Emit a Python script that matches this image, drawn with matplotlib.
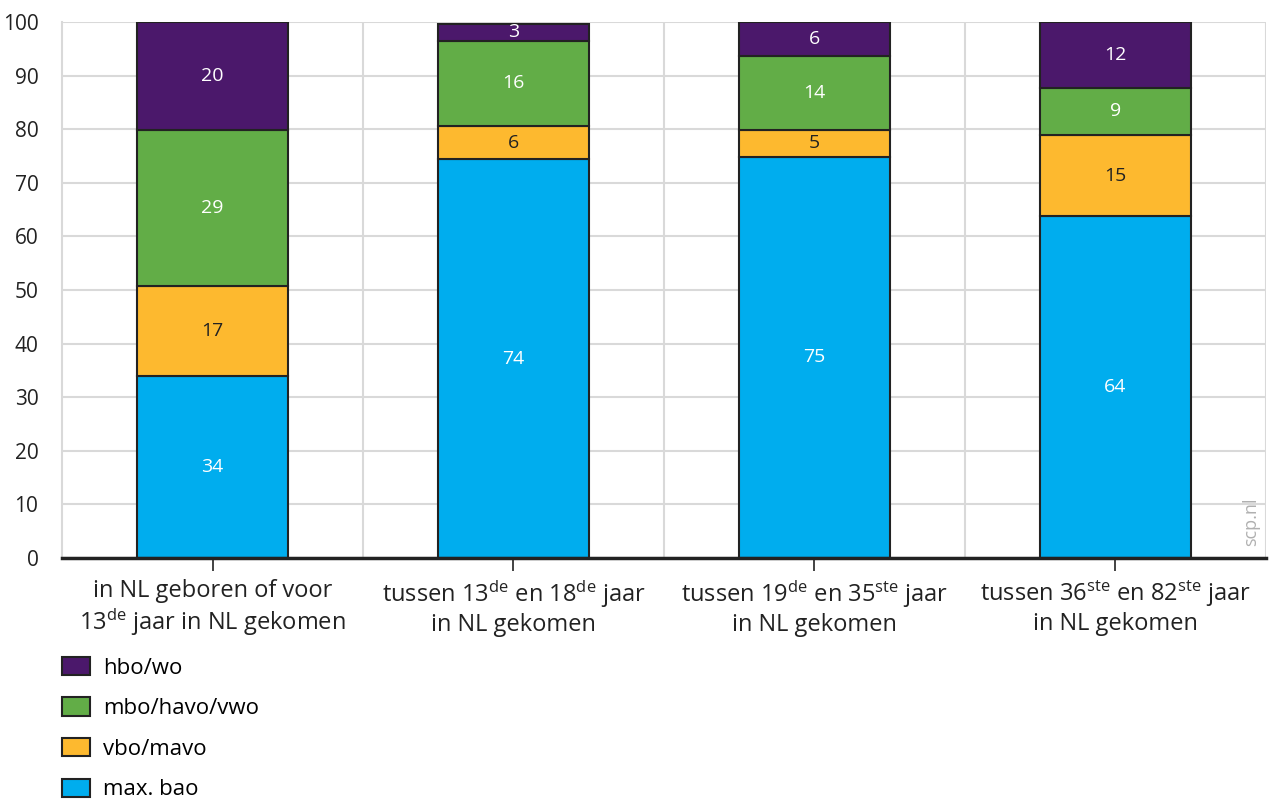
import matplotlib
matplotlib.use("Agg")
import matplotlib.pyplot as plt
from matplotlib.patches import Patch
import numpy as np

FONT = "Open Sans"
plt.rcParams['font.family'] = [FONT, 'DejaVu Sans']
plt.rcParams['mathtext.fontset'] = 'custom'
plt.rcParams['mathtext.rm'] = FONT
plt.rcParams['mathtext.it'] = FONT
plt.rcParams['mathtext.bf'] = FONT

categories = [
    "in NL geboren of voor\n13$^{\\mathrm{de}}$ jaar in NL gekomen",
    "tussen 13$^{\\mathrm{de}}$ en 18$^{\\mathrm{de}}$ jaar\nin NL gekomen",
    "tussen 19$^{\\mathrm{de}}$ en 35$^{\\mathrm{ste}}$ jaar\nin NL gekomen",
    "tussen 36$^{\\mathrm{ste}}$ en 82$^{\\mathrm{ste}}$ jaar\nin NL gekomen",
]
series_names = ["max. bao", "vbo/mavo", "mbo/havo/vwo", "hbo/wo"]
max_bao = [34.0, 74.4, 74.8, 63.8]
vbo_mavo = [16.7, 6.2, 5.1, 15.1]
mbo_havo_vwo = [29.2, 15.9, 13.8, 8.8]
hbo_wo = [20.1, 3.1, 6.3, 12.3]
labels_max_bao = [34, 74, 75, 64]
labels_vbo_mavo = [17, 6, 5, 15]
labels_mbo = [29, 16, 14, 9]
labels_hbo = [20, 3, 6, 12]
yticks = [0, 10, 20, 30, 40, 50, 60, 70, 80, 90, 100]

colors = ["#00ADEE", "#FDB92F", "#62AD47", "#4B186B"]
text_colors = ["white", "#222222", "white", "white"]

fig = plt.figure(figsize=(12.71, 8.05), dpi=100)
ax = fig.add_axes([0.0488, 0.307, 0.9472, 0.6657])

x = np.arange(len(categories))
data = [max_bao, vbo_mavo, mbo_havo_vwo, hbo_wo]
labs = [labels_max_bao, labels_vbo_mavo, labels_mbo, labels_hbo]
bottom = np.zeros(len(categories))
handles = []
for vals, lab, c, tc, name in zip(data, labs, colors, text_colors, series_names):
    vals = np.array(vals)
    bars = ax.bar(x, vals, width=0.5, bottom=bottom, color=c, edgecolor="#222222",
                  linewidth=1.5, zorder=3)
    ax.bar_label(bars, labels=[str(v) for v in lab], label_type="center",
                 color=tc, fontsize=14, zorder=4)
    bottom += vals
    handles.append(Patch(facecolor=c, edgecolor="#222222", linewidth=1.5, label=name))

ax.set_xlim(-0.5, 3.5)
ax.set_ylim(0, 100)
ax.set_yticks(yticks)
ax.set_yticklabels([str(t) for t in yticks], fontsize=15, color="#222222")
ax.set_xticks(x)
ax.set_xticklabels(categories, fontsize=17, color="#222222", linespacing=1.15)
ax.tick_params(axis="y", length=0, pad=17)
ax.tick_params(axis="x", length=9, width=1.2, color="#222222", pad=6)

ax.set_xticks([0.5, 1.5, 2.5, 3.5], minor=True)
ax.tick_params(axis="x", which="minor", length=0)
ax.grid(axis="y", color="#d9d9d9", linewidth=1.5, zorder=0)
ax.grid(axis="x", which="minor", color="#d9d9d9", linewidth=1.5, zorder=0)

for s in ["top", "right"]:
    ax.spines[s].set_visible(False)
ax.spines["left"].set_color("#d9d9d9")
ax.spines["left"].set_linewidth(1.5)
ax.spines["bottom"].set_color("#222222")
ax.spines["bottom"].set_linewidth(2.5)
ax.spines["bottom"].set_zorder(5)

ax.text(0.988, 0.067, "scp.nl", rotation=90, transform=ax.transAxes, fontsize=13,
        color="#b0b0b0", ha="center", va="center")

fig.legend(handles=handles[::-1], loc="upper left", bbox_to_anchor=(0.042, 0.195),
           frameon=False, fontsize=16, handlelength=1.25, handleheight=0.9,
           handletextpad=0.6, labelspacing=0.84, borderaxespad=0)

fig.savefig("out.png", dpi=100)
